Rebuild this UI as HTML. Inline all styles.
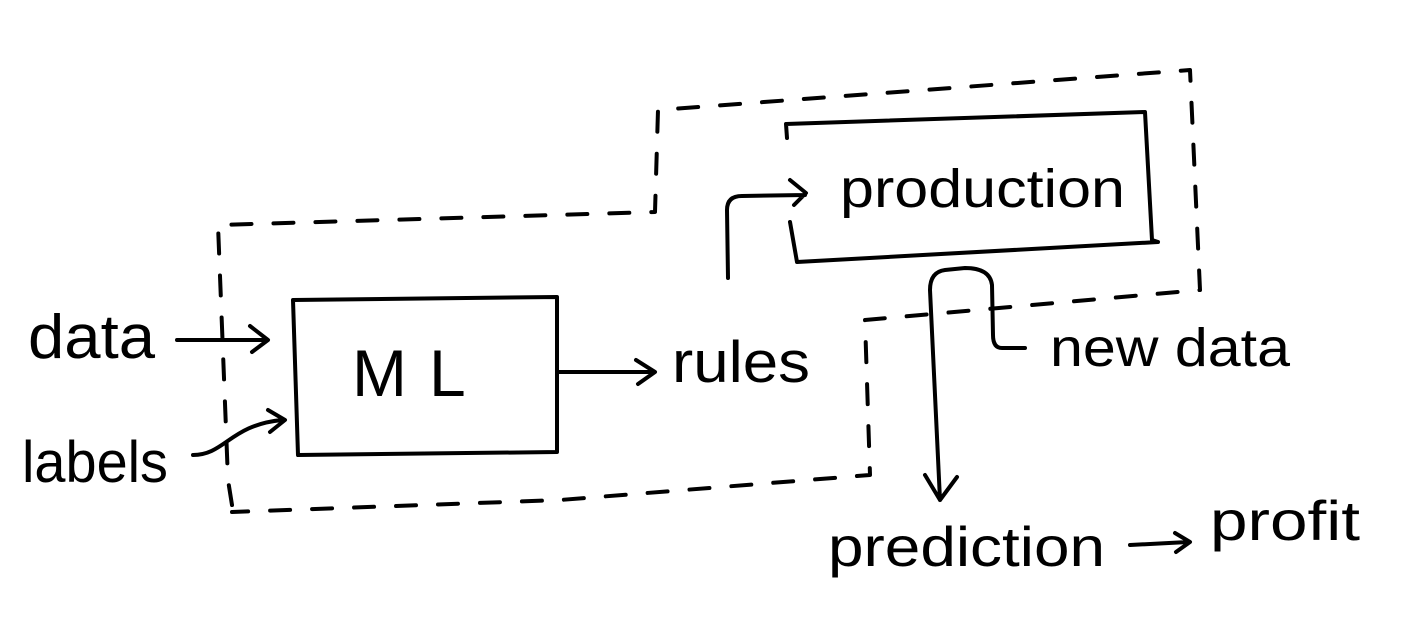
<!DOCTYPE html>
<html><head><style>
html,body{margin:0;padding:0;background:#fff;}
svg{display:block;}
text{font-family:"Liberation Sans",sans-serif;fill:#000;}
</style></head><body>
<svg width="1402" height="634" viewBox="0 0 1402 634" xmlns="http://www.w3.org/2000/svg">
<g fill="none" stroke="#000" stroke-width="4" stroke-linecap="round" stroke-linejoin="round">
<path stroke-dasharray="20 22" d="M232,505 L228,480 L218,225 L655,212 L658,110 L1190,70 L1200,290 L865,320 L870,475 L560,500 L232,512"/>
<path d="M293,300 L557,297 L557,452 L298,455 Z"/>
<path d="M787,138 L786,124 L1145,112 L1152,240 L1158,242 M790,222 L797,262 L1158,242"/>
<path d="M177,340 L266,340 M250,326 L268,340 L252,352"/>
<path d="M193,455 C225,455 230,425 282,420 M268,410 L285,420 L270,432"/>
<path d="M558,372 L652,372 M636,360 L655,372 L638,384"/>
<path d="M728,278 L727,210 Q727,196 742,196 L805,195 M790,180 L806,193 L794,205"/>
<path d="M1025,348 L1002,348 Q993,348 993,335 L992,285 Q990,268 965,268 L945,270 Q930,272 930,290 L940,500 M925,475 L940,500 L957,477"/>
<path d="M1130,545 L1188,542 M1175,533 L1190,542 L1176,552"/>
</g>
<g>
<text x="28" y="358" font-size="62" textLength="127" lengthAdjust="spacingAndGlyphs">data</text>
<text x="22" y="482" font-size="58" textLength="146" lengthAdjust="spacingAndGlyphs">labels</text>
<text x="352" y="396" font-size="66" letter-spacing="22">ML</text>
<text x="672" y="382" font-size="58" textLength="138" lengthAdjust="spacingAndGlyphs">rules</text>
<text x="840" y="207" font-size="54" textLength="285" lengthAdjust="spacingAndGlyphs">production</text>
<text x="1050" y="366" font-size="54" textLength="240" lengthAdjust="spacingAndGlyphs">new data</text>
<text x="828" y="566" font-size="56" textLength="277" lengthAdjust="spacingAndGlyphs">prediction</text>
<text x="1210" y="540" font-size="56" textLength="150" lengthAdjust="spacingAndGlyphs">profit</text>
</g>
</svg>
</body></html>
